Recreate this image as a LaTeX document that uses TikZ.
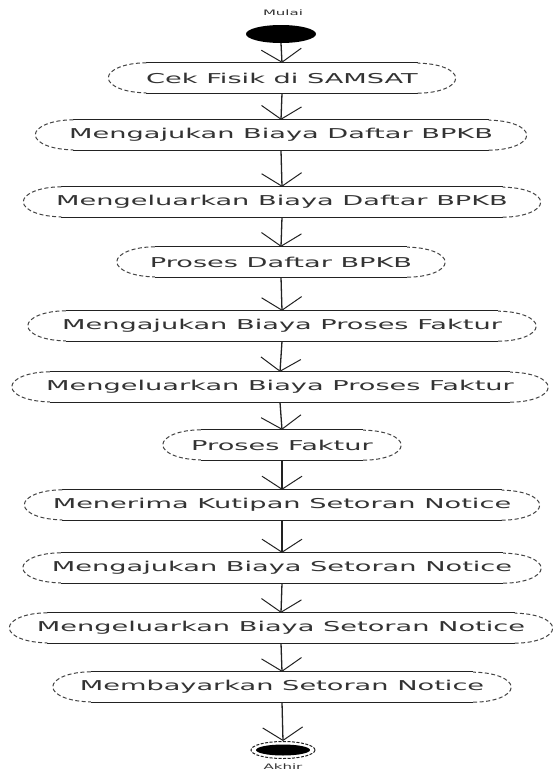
\documentclass[tikz,border=0pt]{standalone}
\usepackage{fontspec}
\newfontfamily\actfont[FakeStretch=2.0]{DejaVu Sans}
\usetikzlibrary{arrows.meta,calc,shapes.geometric}
\definecolor{ink}{HTML}{222222}
\definecolor{txt}{HTML}{333333}
\begin{document}
\begin{tikzpicture}[x=1pt,y=1pt,
  act/.style={minimum height=30pt, inner sep=0pt, text=txt,
    font=\actfont\fontsize{13.6}{15}\selectfont},
  edge/.style={draw=ink, line width=1.3pt},
  endarc/.style={draw=ink!85, line width=1pt, dash pattern=on 4pt off 2.5pt},
  flow/.style={draw=ink, line width=1.3pt,
    -{Straight Barb[length=13pt,width=40pt,line width=1pt]}},
  lbl/.style={text=txt, font=\actfont\fontsize{7.5}{8}\selectfont}
]
\useasboundingbox (0,0) rectangle (553,-772);
\fill[white] (0,0) rectangle (553,-772);

% initial state
\node[ellipse, fill=black, minimum width=70pt, minimum height=18pt, inner sep=0pt] (start) at (281,-34) {};
\node[lbl] (startlbl) at (283,-13) {Mulai};

% activities
\node[act, minimum width=347pt] (act1)  at (282,-78)  {Cek Fisik di SAMSAT};
\node[act, minimum width=491pt] (act2)  at (281,-135) {Mengajukan Biaya Daftar BPKB};
\node[act, minimum width=517pt] (act3)  at (282,-202) {Mengeluarkan Biaya Daftar BPKB};
\node[act, minimum width=328pt] (act4)  at (281,-262) {Proses Daftar BPKB};
\node[act, minimum width=508pt] (act5)  at (282,-326) {Mengajukan Biaya Proses Faktur};
\node[act, minimum width=536pt] (act6)  at (280,-387) {Mengeluarkan Biaya Proses Faktur};
\node[act, minimum width=238pt] (act7)  at (282,-445) {Proses Faktur};
\node[act, minimum width=515pt] (act8)  at (282,-505) {Menerima Kutipan Setoran Notice};
\node[act, minimum width=518pt] (act9)  at (282,-568) {Mengajukan Biaya Setoran Notice};
\node[act, minimum width=543pt] (act10) at (281,-628) {Mengeluarkan Biaya Setoran Notice};
\node[act, minimum width=458pt] (act11) at (282,-687) {Membayarkan Setoran Notice};

% activity outlines: solid sides, dashed rounded ends
\foreach \i in {1,...,11} {
  \draw[edge] ($(act\i.north west)+(38pt,0)$) -- ($(act\i.north east)+(-38pt,0)$);
  \draw[edge] ($(act\i.south west)+(38pt,0)$) -- ($(act\i.south east)+(-38pt,0)$);
  \draw[endarc] ($(act\i.north west)+(38pt,0)$) arc[start angle=90, end angle=270, x radius=38pt, y radius=15pt];
  \draw[endarc] ($(act\i.south east)+(-38pt,0)$) arc[start angle=-90, end angle=90, x radius=38pt, y radius=15pt];
}

% final state
\node[ellipse, draw=ink, line width=1pt, dash pattern=on 3pt off 1.5pt, minimum width=64pt, minimum height=17pt, inner sep=0pt] (finish) at (283,-750) {};
\node[ellipse, fill=black, minimum width=54pt, minimum height=11pt, inner sep=0pt] (finishdot) at (finish) {};
\node[lbl] (finishlbl) at (283,-767) {Akhir};

% control flow
\draw[flow] (start.south) -- (act1.north);
\foreach \i [evaluate=\i as \j using int(\i+1)] in {1,...,10} {
  \draw[flow] (act\i.south) -- (act\j.north);
}
\draw[flow] (act11.south) -- (finish.north);
\end{tikzpicture}
\end{document}
